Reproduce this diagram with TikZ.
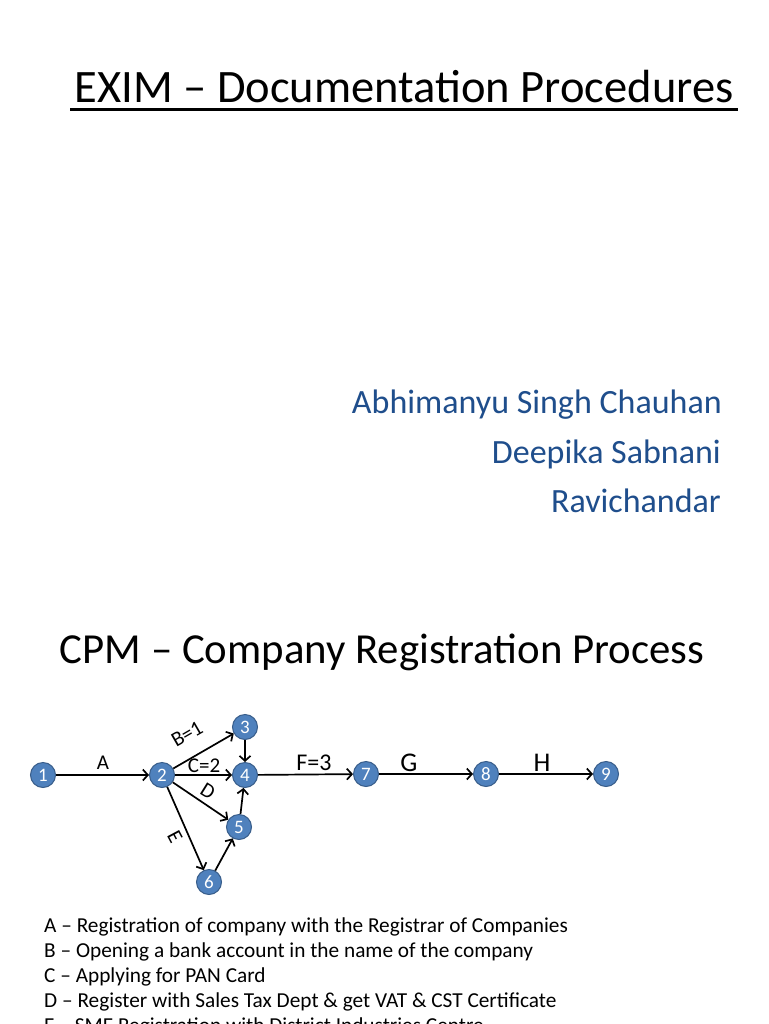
\documentclass[tikz,border=0pt]{standalone}
\usepackage{fontspec}
\setmainfont{Carlito}
\usetikzlibrary{arrows.meta,calc}
\definecolor{evfill}{HTML}{4F81BD}
\definecolor{evdraw}{HTML}{385D8A}
\definecolor{authblue}{HTML}{1F4E8C}
\tikzset{ev/.style={circle,fill=evfill,draw=evdraw,line width=1pt,minimum size=25pt,inner sep=0pt,text=white,font=\fontsize{19}{19}\selectfont},
act/.style={-{Straight Barb[length=5pt,width=11pt]},line width=1.7pt},
lbl/.style={font=\fontsize{21}{21}\selectfont,inner sep=0pt},
big/.style={font=\fontsize{27}{27}\selectfont,inner sep=0pt,anchor=base},
auth/.style={anchor=base east,text=authblue,font=\fontsize{34}{34}\selectfont,inner sep=0pt},
leg/.style={anchor=base west,font=\fontsize{21.3}{21.3}\selectfont,inner sep=0pt}}
\begin{document}
\begin{tikzpicture}[x=1pt,y=-1pt]
\useasboundingbox(0,0)rectangle(768,1024);\clip(0,0)rectangle(768,1024);
\fill[white](0,0)rectangle(768,1024);
% title and authors
\node[anchor=base,inner sep=0pt,font=\fontsize{46.5}{46.5}\selectfont](title)at(404,103){EXIM -- Documentation Procedures};
\draw[line width=2.5pt]($(title.base west)+(-4,6.5)$)--($(title.base east)+(4,6.5)$);
\node[auth](a1)at(722,413){Abhimanyu Singh Chauhan};
\node[auth](a2)at(721,463){Deepika Sabnani};
\node[auth](a3)at(721,512){Ravichandar};
\node[anchor=base,inner sep=0pt,font=\fontsize{42.8}{42.8}\selectfont](cpm)at(382,663){CPM -- Company Registration Process};
% network
\node[ev](n1)at(43,775){1};\node[ev](n2)at(162,775){2};\node[ev](n3)at(245,727){3};
\node[ev](n4)at(245,775){4};\node[ev](n5)at(239,827){5};\node[ev](n6)at(209,882){6};
\node[ev](n7)at(366,774){7};\node[ev](n8)at(486,774){8};\node[ev](n9)at(606,774){9};
\draw[act](n1)--(n2);\draw[act](n2)--(n3);\draw[act](n2)--(n4);\draw[act](n2)--(n5);\draw[act](n2)--(n6);
\draw[act](n3)--(n4);\draw[act](n5)--(n4);\draw[act](n6)--(n5);
\draw[act](n4)--(n7);\draw[act](n7)--(n8);\draw[act](n8)--(n9);
\node[lbl](la)at(103,763){A};\node[lbl,rotate=30](lb)at(187,734){B=1};\node[lbl](lc)at(204,766){C=2};
\node[lbl,rotate=-32](ld)at(208,791){D};\node[lbl,rotate=-62](le)at(175,837){E};
\node[lbl,font=\fontsize{24}{24}\selectfont](lf)at(314,763){F=3};\node[big](lg)at(409,771){G};\node[big](lh)at(542,771){H};
% legend
\node[leg](da)at(44,932){A -- Registration of company with the Registrar of Companies};
\node[leg](db)at(44,957){B -- Opening a bank account in the name of the company};
\node[leg](dc)at(44,982){C -- Applying for PAN Card};
\node[leg](dd)at(44,1007){D -- Register with Sales Tax Dept \& get VAT \& CST Certificate};
\node[leg](de)at(44,1032){E -- SME Registration with District Industries Centre};
\end{tikzpicture}
\end{document}
